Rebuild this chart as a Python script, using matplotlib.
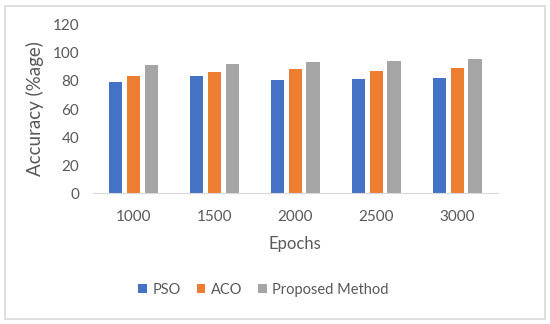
import numpy as np
import matplotlib.pyplot as plt
from matplotlib.patches import Rectangle

epochs = ["1000", "1500", "2000", "2500", "3000"]
pso = [79.5, 83.6, 81.0, 81.2, 82.1]
aco = [83.6, 86.2, 88.3, 87.4, 89.3]
proposed = [91.2, 92.4, 93.3, 94.0, 95.5]

series = [("PSO", pso, "#4472C4"),
          ("ACO", aco, "#ED7D31"),
          ("Proposed Method", proposed, "#A5A5A5")]

plt.rcParams['font.family'] = ['Lato', 'DejaVu Sans']
txt = "#595959"

fig = plt.figure(figsize=(5.5, 3.24), dpi=100)
ax = fig.add_axes([0.169, 0.404, 0.736, 0.519])

x = np.arange(len(epochs))
width = 0.165
step = 0.22
for i, (name, vals, col) in enumerate(series):
    ax.bar(x + (i - 1) * step, vals, width, color=col, label=name)

ax.set_xlim(-0.5, len(epochs) - 0.5)
ax.set_ylim(0, 120)
ax.set_yticks(range(0, 121, 20))
ax.set_xticks(x)
ax.set_xticklabels(epochs)
ax.tick_params(length=0, labelsize=11, colors=txt)
ax.tick_params(axis='x', pad=12)
ax.tick_params(axis='y', pad=10)
for s in ["top", "right", "left"]:
    ax.spines[s].set_visible(False)
ax.spines["bottom"].set_color("#D9D9D9")

ax.set_ylabel("Accuracy (%age)", fontsize=13.5, color=txt, labelpad=6)
ax.set_xlabel("Epochs", fontsize=12, color=txt, labelpad=9)

fig.legend(loc="center", bbox_to_anchor=(0.479, 0.105), ncol=3, frameon=False,
           fontsize=10.5, labelcolor=txt, handlelength=0.6, handleheight=0.6,
           handletextpad=0.35, columnspacing=1.1)

fig.patches.append(Rectangle((0.009, 0.015), 0.982, 0.968, transform=fig.transFigure,
                             fill=False, edgecolor="#D9D9D9", linewidth=1.2))

fig.savefig("out.png", dpi=100)
